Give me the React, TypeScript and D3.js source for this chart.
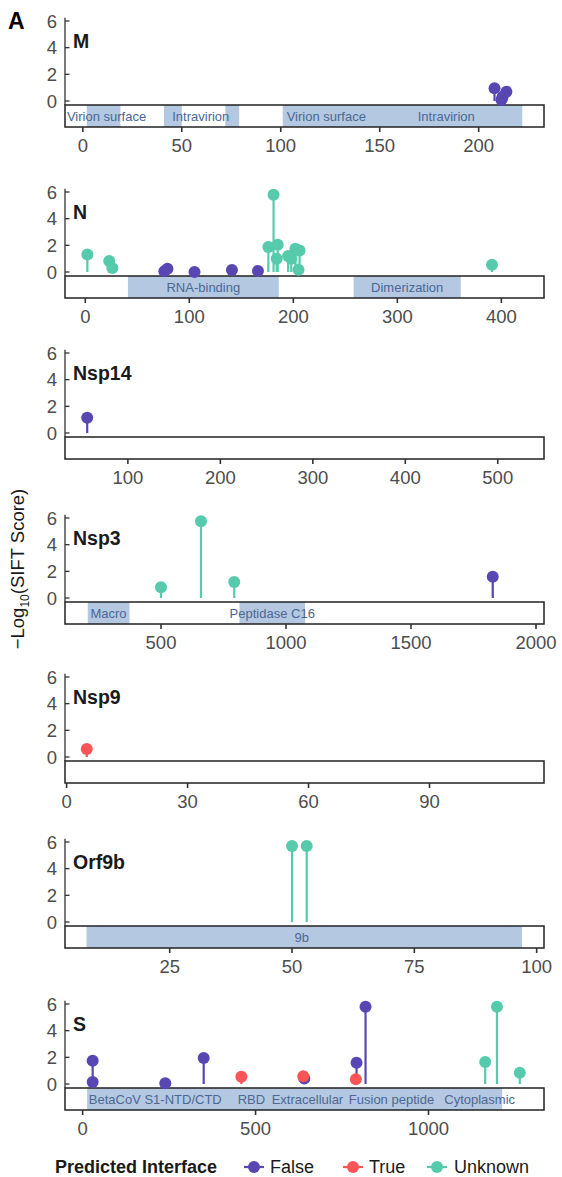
import React from 'react';
import * as d3 from 'd3';

type Variant = { pos: number; score: number; iface: string };
type Domain = { start: number; end: number };
type DomainLabel = { text: string; pos: number };

// Proteins, one panel each
const proteins = ['M', 'N', 'Nsp14', 'Nsp3', 'Nsp9', 'Orf9b', 'S'];

// x ranges shown for each protein (axis limits) and tick values
const xLimits: Record<string, [number, number]> = {
  M: [-9, 233],
  N: [-19.5, 441],
  Nsp14: [32, 550],
  Nsp3: [116, 2032],
  Nsp9: [-0.4, 118.4],
  Orf9b: [3.6, 101.5],
  S: [-51, 1334],
};
const xTicks: Record<string, number[]> = {
  M: [0, 50, 100, 150, 200],
  N: [0, 100, 200, 300, 400],
  Nsp14: [100, 200, 300, 400, 500],
  Nsp3: [500, 1000, 1500, 2000],
  Nsp9: [0, 30, 60, 90],
  Orf9b: [25, 50, 75, 100],
  S: [0, 500, 1000],
};
const yTicks = [0, 2, 4, 6];

// -log10(SIFT score) per variant
const mVariants: Variant[] = [
  { pos: 208, score: 0.95, iface: 'False' },
  { pos: 214, score: 0.7, iface: 'False' },
  { pos: 211.5, score: 0.08, iface: 'False' },
  { pos: 212, score: 0.3, iface: 'False' },
];
const nVariants: Variant[] = [
  { pos: 2, score: 1.32, iface: 'Unknown' },
  { pos: 23, score: 0.82, iface: 'Unknown' },
  { pos: 26, score: 0.3, iface: 'Unknown' },
  { pos: 76, score: 0.05, iface: 'False' },
  { pos: 79, score: 0.25, iface: 'False' },
  { pos: 105, score: 0.0, iface: 'False' },
  { pos: 141, score: 0.15, iface: 'False' },
  { pos: 166, score: 0.08, iface: 'False' },
  { pos: 176, score: 1.87, iface: 'Unknown' },
  { pos: 181, score: 5.8, iface: 'Unknown' },
  { pos: 184, score: 1.0, iface: 'Unknown' },
  { pos: 185, score: 2.05, iface: 'Unknown' },
  { pos: 195, score: 1.2, iface: 'Unknown' },
  { pos: 198, score: 1.0, iface: 'Unknown' },
  { pos: 202, score: 1.75, iface: 'Unknown' },
  { pos: 205, score: 0.17, iface: 'Unknown' },
  { pos: 206, score: 1.62, iface: 'Unknown' },
  { pos: 391, score: 0.55, iface: 'Unknown' },
];
const nsp14Variants: Variant[] = [
  { pos: 56, score: 1.15, iface: 'False' },
];
const nsp3Variants: Variant[] = [
  { pos: 500, score: 0.8, iface: 'Unknown' },
  { pos: 660, score: 5.75, iface: 'Unknown' },
  { pos: 793, score: 1.2, iface: 'Unknown' },
  { pos: 1827, score: 1.6, iface: 'False' },
];
const nsp9Variants: Variant[] = [
  { pos: 5, score: 0.6, iface: 'True' },
];
const orf9bVariants: Variant[] = [
  { pos: 50, score: 5.7, iface: 'Unknown' },
  { pos: 53, score: 5.7, iface: 'Unknown' },
];
const sVariants: Variant[] = [
  { pos: 29, score: 1.75, iface: 'False' },
  { pos: 29, score: 0.15, iface: 'False' },
  { pos: 239, score: 0.05, iface: 'False' },
  { pos: 350, score: 1.95, iface: 'False' },
  { pos: 641, score: 0.42, iface: 'False' },
  { pos: 792, score: 1.6, iface: 'False' },
  { pos: 818, score: 5.8, iface: 'False' },
  { pos: 459, score: 0.55, iface: 'True' },
  { pos: 638, score: 0.58, iface: 'True' },
  { pos: 790, score: 0.35, iface: 'True' },
  { pos: 1164, score: 1.65, iface: 'Unknown' },
  { pos: 1198, score: 5.8, iface: 'Unknown' },
  { pos: 1264, score: 0.85, iface: 'Unknown' },
];

// Annotated regions and their labels
const mDomains: Domain[] = [
  { start: 2, end: 19 }, { start: 41, end: 50 }, { start: 72, end: 79 }, { start: 101, end: 222 },
];
const mLabels: DomainLabel[] = [
  { text: 'Virion surface', pos: 12 }, { text: 'Intravirion', pos: 59.6 },
  { text: 'Virion surface', pos: 123 }, { text: 'Intravirion', pos: 183.6 },
];
const nDomains: Domain[] = [{ start: 41, end: 186 }, { start: 258, end: 361 }];
const nLabels: DomainLabel[] = [{ text: 'RNA-binding', pos: 113.5 }, { text: 'Dimerization', pos: 309.5 }];
const nsp3Domains: Domain[] = [{ start: 207, end: 374 }, { start: 814, end: 1076 }];
const nsp3Labels: DomainLabel[] = [{ text: 'Macro', pos: 290 }, { text: 'Peptidase C16', pos: 945 }];
const orf9bDomains: Domain[] = [{ start: 8, end: 97 }];
const orf9bLabels: DomainLabel[] = [{ text: '9b', pos: 52 }];
const sDomains: Domain[] = [{ start: 13, end: 1213 }];
const sLabels: DomainLabel[] = [
  { text: 'BetaCoV S1-NTD/CTD', pos: 210 }, { text: 'RBD', pos: 488 },
  { text: 'Extracellular', pos: 650 }, { text: 'Fusion peptide', pos: 893 },
  { text: 'Cytoplasmic', pos: 1148 },
];

const variants: Record<string, Variant[]> = {
  M: mVariants, N: nVariants, Nsp14: nsp14Variants, Nsp3: nsp3Variants,
  Nsp9: nsp9Variants, Orf9b: orf9bVariants, S: sVariants,
};
const domains: Record<string, Domain[]> = {
  M: mDomains, N: nDomains, Nsp3: nsp3Domains, Orf9b: orf9bDomains, S: sDomains,
};
const domainLabels: Record<string, DomainLabel[]> = {
  M: mLabels, N: nLabels, Nsp3: nsp3Labels, Orf9b: orf9bLabels, S: sLabels,
};

const ifaceLevels = ['False', 'True', 'Unknown'];
const color = d3.scaleOrdinal<string, string>()
  .domain(ifaceLevels)
  .range(['#5846b3', '#fb5557', '#55cbac']);

// Layout
const width = 562;
const height = 1177;
const left = 65;
const right = 544;
const panelTops = [21, 192, 353, 518, 677, 842, 1004];
const font = '"Liberation Sans", Arial, Helvetica, sans-serif';
const dotR = 6;

const Panel: React.FC<{ name: string; top: number }> = ({ name, top }) => {
  const x = d3.scaleLinear().domain(xLimits[name]).range([left, right]);
  const y = d3.scaleLinear().domain([0, 6]).range([top + 80, top]);
  const barTop = top + 84;
  const barBottom = top + 106;
  const pts = variants[name];
  const order = [...pts].sort((a, b) => ifaceLevels.indexOf(a.iface) - ifaceLevels.indexOf(b.iface));

  return (
    <g>
      {/* y axis */}
      <line x1={left} x2={left} y1={y(6.25)} y2={barTop} stroke="#333" strokeWidth={1.3} />
      {yTicks.map((t) => (
        <g key={t}>
          <line x1={left} x2={left + 4.5} y1={y(t)} y2={y(t)} stroke="#333" strokeWidth={1.3} />
          <text x={left - 8} y={y(t)} dy="0.36em" textAnchor="end" fontSize={18.5} fill="#4d4d4d">{t}</text>
        </g>
      ))}
      {/* protein bar with annotated regions */}
      <rect x={left} y={barTop} width={right - left} height={barBottom - barTop} fill="#fff" />
      {(domains[name] || []).map((d, i) => (
        <rect key={i} x={x(d.start)} y={barTop} width={x(d.end) - x(d.start)}
          height={barBottom - barTop} fill="#b4c8e2" />
      ))}
      {(domainLabels[name] || []).map((d, i) => (
        <text key={i} x={x(d.pos)} y={(barTop + barBottom) / 2} dy="0.36em" textAnchor="middle"
          fontSize={13} fill="#4c6792">{d.text}</text>
      ))}
      <rect x={left} y={barTop} width={right - left} height={barBottom - barTop}
        fill="none" stroke="#222" strokeWidth={1.5} />
      {/* x axis */}
      {xTicks[name].map((t) => (
        <g key={t}>
          <line x1={x(t)} x2={x(t)} y1={barBottom} y2={barBottom + 5} stroke="#333" strokeWidth={1.6} />
          <text x={x(t)} y={top + 131} textAnchor="middle" fontSize={18.5} fill="#4d4d4d">{t}</text>
        </g>
      ))}
      {/* lollipops */}
      {order.map((d, i) => (
        <line key={`s${i}`} x1={x(d.pos)} x2={x(d.pos)} y1={y(0)} y2={y(d.score)}
          stroke={color(d.iface)} strokeWidth={2.2} />
      ))}
      {order.map((d, i) => (
        <circle key={`c${i}`} cx={x(d.pos)} cy={y(d.score)} r={dotR} fill={color(d.iface)} />
      ))}
      <text x={left + 8} y={top + 27} fontSize={19.5} fontWeight="bold" fill="#1a1a1a">{name}</text>
    </g>
  );
};

const App: React.FC = () => {
  const legendY = 1167;
  const legendKeys = [
    { iface: 'False', x: 254, tx: 270 },
    { iface: 'True', x: 353, tx: 369 },
    { iface: 'Unknown', x: 437, tx: 454 },
  ];
  return (
    <svg width={width} height={height} style={{ position: 'absolute', left: 0, top: 0 }}
      fontFamily={font}>
      <rect width={width} height={height} fill="#fff" />
      <text x={8} y={29} fontSize={23} fontWeight="bold" fill="#000">A</text>
      {proteins.map((p, i) => <Panel key={p} name={p} top={panelTops[i]} />)}
      <text transform="translate(24,569) rotate(-90)" textAnchor="middle" fontSize={18.5} fill="#1a1a1a">
        −Log<tspan fontSize={12} dy={5}>10</tspan><tspan dy={-5}>(SIFT Score)</tspan>
      </text>
      {/* legend */}
      <text x={55} y={legendY} dy="0.36em" fontSize={18} fontWeight="bold" fill="#1a1a1a">Predicted Interface</text>
      {legendKeys.map((k) => (
        <g key={k.iface}>
          <line x1={k.x - 10} x2={k.x + 10} y1={legendY} y2={legendY} stroke={color(k.iface)} strokeWidth={2.2} />
          <circle cx={k.x} cy={legendY} r={dotR} fill={color(k.iface)} />
          <text x={k.tx} y={legendY} dy="0.36em" fontSize={18} fill="#1a1a1a">{k.iface}</text>
        </g>
      ))}
    </svg>
  );
};

export default App;
